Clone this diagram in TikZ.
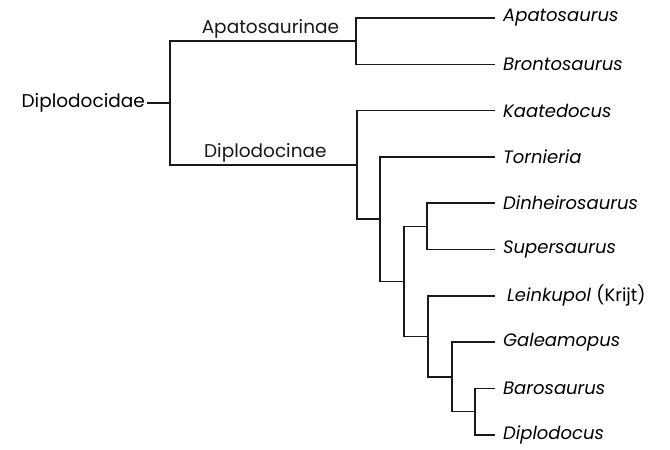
\documentclass[tikz,border=0pt]{standalone}
\usepackage{fontspec}
\setmainfont{Poppins}
\usepackage{tikz}
\usetikzlibrary{positioning, calc}

\begin{document}
\begin{tikzpicture}[
    x=1pt, y=-1pt,
    branch/.style={line width=1.6pt, black!90},
    leaf/.style={anchor=west, inner xsep=8pt, inner ysep=0pt, font=\fontsize{18}{21}\selectfont\itshape},
    cladelabel/.style={font=\fontsize{18.5}{22}\selectfont, inner sep=2pt}
]
    \useasboundingbox (0,0) rectangle (670,450);

    % leaves
    \node[leaf] (Apato)  at (495, 18.0)  {Apatosaurus};
    \node[leaf] (Bronto) at (495, 64.3)  {Brontosaurus};
    \node[leaf] (Kaate)  at (495, 110.6) {Kaatedocus};
    \node[leaf] (Torni)  at (495, 156.9) {Tornieria};
    \node[leaf] (Dinhe)  at (495, 203.2) {Dinheirosaurus};
    \node[leaf] (Super)  at (495, 249.5) {Supersaurus};
    \node[leaf] (Leink)  at (495, 295.8) {\hspace{4pt}Leinkupol {\upshape (Krijt)}};
    \node[leaf] (Galea)  at (495, 342.1) {Galeamopus};
    \node[leaf] (Baros)  at (495, 388.4) {Barosaurus};
    \node[leaf] (Diplo)  at (495, 434.7) {Diplodocus};

    % branching points
    \coordinate (nRoot)  at (170, 103.0);
    \coordinate (nApato) at (356, 41.2);
    \coordinate (nDipl)  at (357, 164.8);
    \coordinate (nTorn)  at (380, 219.1);
    \coordinate (nDinh)  at (427, 226.4);
    \coordinate (nMid)   at (404, 281.3);
    \coordinate (nLein)  at (428, 336.3);
    \coordinate (nGal)   at (452, 376.8);
    \coordinate (nBaro)  at (475, 411.6);

    \node[cladelabel, anchor=east] (Family) at (147, 103.0) {Diplodocidae};

    % root
    \draw[branch] (Family.east) -- (nRoot);
    \draw[branch] (nRoot) |- (nApato) node[cladelabel, pos=0.77, above]{Apatosaurinae};
    \draw[branch] (nRoot) |- (nDipl) node[cladelabel, pos=0.755, above]{Diplodocinae};

    % Apatosaurinae
    \draw[branch] (nApato) |- (Apato.west);
    \draw[branch] (nApato) |- (Bronto.west);

    % Diplodocinae
    \draw[branch] (nDipl) |- (Kaate.west);
    \draw[branch] (nDipl) |- (nTorn);
    \draw[branch] (nTorn) |- (Torni.west);
    \draw[branch] (nTorn) |- (nMid);
    \draw[branch] (nMid) |- (nDinh);
    \draw[branch] (nDinh) |- (Dinhe.west);
    \draw[branch] (nDinh) |- (Super.west);
    \draw[branch] (nMid) |- (nLein);
    \draw[branch] (nLein) |- (Leink.west);
    \draw[branch] (nLein) |- (nGal);
    \draw[branch] (nGal) |- (Galea.west);
    \draw[branch] (nGal) |- (nBaro);
    \draw[branch] (nBaro) |- (Baros.west);
    \draw[branch] (nBaro) |- (Diplo.west);

\end{tikzpicture}
\end{document}
